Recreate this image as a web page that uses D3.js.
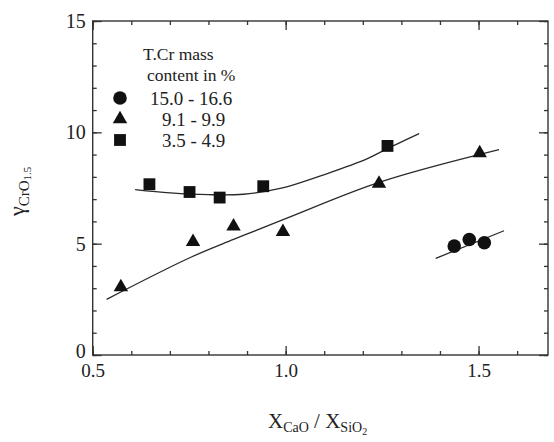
<!DOCTYPE html>
<html>
<head>
<meta charset="utf-8">
<script src="https://cdn.jsdelivr.net/npm/d3@7"></script>
<style>
  body { margin: 0; background: #fff; }
  svg text { fill: #222; }
</style>
</head>
<body>
<svg id="mainsvg" width="554" height="442" font-family="'Times New Roman', 'Liberation Serif', 'DejaVu Serif', serif"></svg>
<script>
const circleX = [1.437, 1.476, 1.515];
const circleY = [4.89, 5.19, 5.04];
const triX = [0.573, 0.760, 0.865, 0.993, 1.242, 1.503];
const triY = [3.05, 5.08, 5.78, 5.53, 7.70, 9.07];
const sqX = [0.647, 0.751, 0.829, 0.942, 1.264];
const sqY = [7.67, 7.32, 7.07, 7.58, 9.39];

// fitted curves drawn in the figure
const circFitX = [1.389, 1.566];
const circFitY = [4.34, 5.58];
const triFitX = [0.536, 0.753, 0.865, 1.0, 1.246, 1.553];
const triFitY = [2.50, 4.38, 5.19, 6.12, 7.77, 9.22];
const sqFitX = [0.610, 0.701, 0.800, 0.890, 0.986, 1.108, 1.212, 1.264, 1.346];
const sqFitY = [7.43, 7.28, 7.20, 7.22, 7.48, 8.15, 8.82, 9.27, 9.94];

const xMajor = [0.5, 1.0, 1.5];
const yMajor = [0, 5, 10, 15];
const legendTitle = ['T.Cr mass', 'content in %'];
const legendLabels = ['15.0 - 16.6', '9.1 - 9.9', '3.5 - 4.9'];

var serif = "'Times New Roman', 'Liberation Serif', 'DejaVu Serif', serif";
var svg = d3.select('#mainsvg');

var x = d3.scaleLinear().domain([0.5, 1.68]).range([92.7, 548]);
var y = d3.scaleLinear().domain([0, 15]).range([355, 21]);

var xMinor = d3.range(5, 17).map(d => d / 10);
var yMinor = d3.range(0, 16);

// frame
svg.append('rect')
    .attr('x', x(0.5)).attr('y', y(15))
    .attr('width', x(1.68) - x(0.5)).attr('height', y(0) - y(15))
    .attr('fill', 'none').attr('stroke', '#333').attr('stroke-width', 1.4);

function tidy(g) {
    g.attr('font-family', serif);
    g.select('.domain').remove();
    g.selectAll('line').attr('stroke', '#333').attr('stroke-width', 1.3);
}

// bottom
svg.append('g').attr('transform', 'translate(0,' + y(0) + ')')
    .call(d3.axisBottom(x).tickValues(xMinor).tickSize(-4).tickFormat(''))
    .call(tidy);
svg.append('g').attr('transform', 'translate(0,' + y(0) + ')')
    .call(d3.axisBottom(x).tickValues(xMajor).tickSize(-9).tickPadding(9).tickFormat(d3.format('.1f')))
    .call(tidy)
    .selectAll('text').style('font-size', '19px').attr('fill', '#222');
// top
svg.append('g').attr('transform', 'translate(0,' + y(15) + ')')
    .call(d3.axisTop(x).tickValues(xMinor).tickSize(-4).tickFormat(''))
    .call(tidy);
svg.append('g').attr('transform', 'translate(0,' + y(15) + ')')
    .call(d3.axisTop(x).tickValues(xMajor).tickSize(-9).tickFormat(''))
    .call(tidy);
// left
svg.append('g').attr('transform', 'translate(' + x(0.5) + ',0)')
    .call(d3.axisLeft(y).tickValues(yMinor).tickSize(-4).tickFormat(''))
    .call(tidy);
svg.append('g').attr('transform', 'translate(' + x(0.5) + ',0)')
    .call(d3.axisLeft(y).tickValues(yMajor).tickSize(-9).tickPadding(7))
    .call(tidy)
    .selectAll('text').style('font-size', '20px').attr('fill', '#222')
    .attr('dy', d => d === 0 ? '0.1em' : '0.32em');
// right
svg.append('g').attr('transform', 'translate(' + x(1.68) + ',0)')
    .call(d3.axisRight(y).tickValues(yMinor).tickSize(-4).tickFormat(''))
    .call(tidy);
svg.append('g').attr('transform', 'translate(' + x(1.68) + ',0)')
    .call(d3.axisRight(y).tickValues(yMajor).tickSize(-9).tickFormat(''))
    .call(tidy);

// fit curves
var line = d3.line().x(d => x(d[0])).y(d => y(d[1])).curve(d3.curveCatmullRom);
[[circFitX, circFitY], [triFitX, triFitY], [sqFitX, sqFitY]].forEach(function (s) {
    svg.append('path')
        .datum(d3.zip(s[0], s[1]))
        .attr('d', line)
        .attr('fill', 'none')
        .attr('stroke', '#2a2a2a')
        .attr('stroke-width', 1.3);
});

// markers
var sym = {
    circle: d3.symbol().type(d3.symbolCircle).size(145),
    triangle: d3.symbol().type(d3.symbolTriangle).size(90),
    square: d3.symbol().type(d3.symbolSquare).size(140)
};
[[circleX, circleY, 'circle'], [triX, triY, 'triangle'], [sqX, sqY, 'square']].forEach(function (s) {
    svg.append('g').selectAll('path')
        .data(d3.zip(s[0], s[1]))
        .enter().append('path')
        .attr('transform', d => 'translate(' + x(d[0]) + ',' + y(d[1]) + ')')
        .attr('d', sym[s[2]]())
        .attr('fill', '#111');
});

// legend
var leg = svg.append('g').attr('font-family', serif);
leg.selectAll('.ltitle')
    .data(legendTitle)
    .enter().append('text')
    .attr('x', (d, i) => i == 0 ? 143 : 147)
    .attr('y', (d, i) => 60 + i * 20.5)
    .style('font-size', '17.5px')
    .text(d => d);
var shapes = ['circle', 'triangle', 'square'];
var rowY = [98, 119, 140];
leg.selectAll('.lsym')
    .data(shapes)
    .enter().append('path')
    .attr('transform', (d, i) => 'translate(120,' + rowY[i] + ')')
    .attr('d', d => sym[d]())
    .attr('fill', '#111');
leg.selectAll('.ltext')
    .data(legendLabels)
    .enter().append('text')
    .attr('x', (d, i) => i == 0 ? 150 : 162)
    .attr('y', (d, i) => rowY[i] + 7)
    .style('font-size', '19px')
    .text(d => d);

// axis titles
var xt = svg.append('text')
    .attr('x', 268).attr('y', 428)
    .style('font-size', '21px');
xt.append('tspan').text('X');
xt.append('tspan').attr('dy', 4).style('font-size', '14px').text('CaO');
xt.append('tspan').attr('dy', -4).text(' / X');
xt.append('tspan').attr('dy', 4).style('font-size', '14px').text('SiO');
xt.append('tspan').attr('dy', 3).style('font-size', '10px').text('2');

var yt = svg.append('text')
    .attr('transform', 'translate(24,216) rotate(-90)')
    .style('font-size', '22px');
yt.append('tspan').text('γ');
yt.append('tspan').attr('dy', 5).style('font-size', '15px').text('CrO');
yt.append('tspan').attr('dy', 2).style('font-size', '11px').text('1.5');
</script>
</body>
</html>
